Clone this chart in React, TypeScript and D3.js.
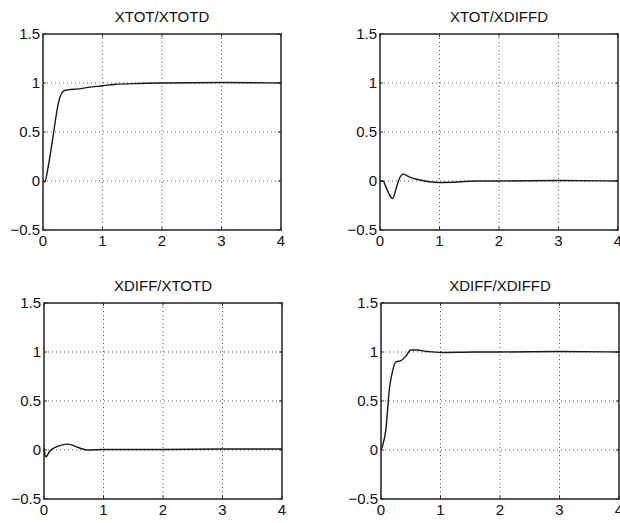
import React from "react";
import * as d3 from "d3";

const titles = ["XTOT/XTOTD", "XTOT/XDIFFD", "XDIFF/XTOTD", "XDIFF/XDIFFD"];
const xTicks = [0, 1, 2, 3, 4];
const yTicks = [-0.5, 0, 0.5, 1, 1.5];

const t1 = [0, 0.03, 0.08, 0.17, 0.25, 0.3, 0.35, 0.42, 0.6, 0.76, 0.98, 1.2, 1.6, 2.0, 3.0, 4.0];
const y1 = [0, -0.01, 0.12, 0.46, 0.77, 0.88, 0.92, 0.93, 0.94, 0.955, 0.97, 0.985, 0.995, 1.0, 1.005, 1.0];

const t2 = [0, 0.05, 0.1, 0.15, 0.21, 0.27, 0.33, 0.39, 0.5, 0.6, 0.8, 1.0, 1.3, 1.6, 2, 3, 4];
const y2 = [0, 0.0, -0.06, -0.13, -0.18, -0.08, 0.03, 0.07, 0.04, 0.02, -0.005, -0.015, -0.01, 0.0, 0.0, 0.005, 0];

const t3 = [0, 0.03, 0.1, 0.2, 0.3, 0.39, 0.48, 0.56, 0.65, 0.73, 1.0, 2, 3, 4];
const y3 = [0.02, -0.07, -0.01, 0.03, 0.05, 0.06, 0.05, 0.03, 0.01, 0.0, 0.005, 0.005, 0.01, 0.01];

const t4 = [0, 0.03, 0.08, 0.14, 0.2, 0.25, 0.33, 0.42, 0.5, 0.59, 0.78, 1.0, 1.57, 2, 3, 4];
const y4 = [0, 0.05, 0.2, 0.62, 0.82, 0.9, 0.91, 0.96, 1.02, 1.02, 1.005, 0.995, 1.0, 1.0, 1.005, 1.0];

const series = [
  [t1, y1],
  [t2, y2],
  [t3, y3],
  [t4, y4],
];

const panels = [
  { left: 43, top: 34 },
  { left: 380, top: 34 },
  { left: 44, top: 303 },
  { left: 381, top: 303 },
];
const W = 238;
const H = 196;
const FONT = "'Liberation Sans', Arial, Helvetica, sans-serif";

function fmt(v: number) {
  return v < 0 ? "\u2212" + String(-v) : String(v);
}

function Panel({ idx }: { idx: number }) {
  const { left, top } = panels[idx];
  const x = d3.scaleLinear().domain([0, 4]).range([left, left + W]);
  const y = d3.scaleLinear().domain([-0.5, 1.5]).range([top + H, top]);
  const [ts, ys] = series[idx];
  const pts: [number, number][] = ts.map((t, i) => [t, ys[i]]);
  const line = d3
    .line<[number, number]>()
    .x((d) => x(d[0]))
    .y((d) => y(d[1]))
    .curve(d3.curveMonotoneX);
  return (
    <g>
      <text
        x={left + W / 2}
        y={top - 12}
        textAnchor="middle"
        fontFamily={FONT}
        fontSize={15}
        fill="#111"
      >
        {titles[idx]}
      </text>
      {xTicks.slice(1, -1).map((v) => (
        <line
          key={"gx" + v}
          x1={x(v)}
          x2={x(v)}
          y1={top}
          y2={top + H}
          stroke="#555"
          strokeWidth={1}
          strokeDasharray="1,3"
        />
      ))}
      {yTicks.slice(1, -1).map((v) => (
        <line
          key={"gy" + v}
          x1={left}
          x2={left + W}
          y1={y(v)}
          y2={y(v)}
          stroke="#555"
          strokeWidth={1}
          strokeDasharray="1,3"
        />
      ))}
      {xTicks.map((v) => (
        <g key={"tx" + v}>
          <line x1={x(v)} x2={x(v)} y1={top + H} y2={top + H - 3} stroke="#333" />
          <line x1={x(v)} x2={x(v)} y1={top} y2={top + 3} stroke="#333" />
          <text
            x={x(v)}
            y={top + H + 16}
            textAnchor="middle"
            fontFamily={FONT}
            fontSize={15}
            fill="#111"
          >
            {fmt(v)}
          </text>
        </g>
      ))}
      {yTicks.map((v) => (
        <g key={"ty" + v}>
          <line x1={left} x2={left + 3} y1={y(v)} y2={y(v)} stroke="#333" />
          <line x1={left + W} x2={left + W - 3} y1={y(v)} y2={y(v)} stroke="#333" />
          <text
            x={left - 3}
            y={y(v) + 5}
            textAnchor="end"
            fontFamily={FONT}
            fontSize={15}
            fill="#111"
          >
            {fmt(v)}
          </text>
        </g>
      ))}
      <rect x={left} y={top} width={W} height={H} fill="none" stroke="#222" strokeWidth={1.5} />
      <path d={line(pts) || ""} fill="none" stroke="#1a1a1a" strokeWidth={1.4} />
    </g>
  );
}

export default function App() {
  return (
    <svg
      width={620}
      height={523}
      style={{ position: "absolute", left: 0, top: 0, background: "#fff" }}
    >
      <rect x={0} y={0} width={620} height={523} fill="#fff" />
      {panels.map((_, i) => (
        <Panel key={i} idx={i} />
      ))}
    </svg>
  );
}
